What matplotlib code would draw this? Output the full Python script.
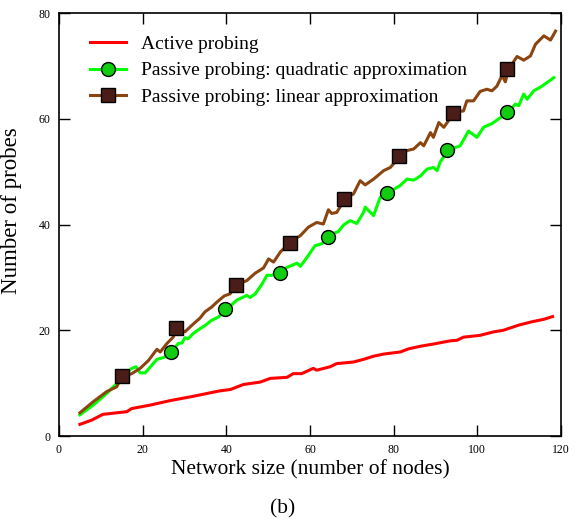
import matplotlib
matplotlib.use("Agg")
import matplotlib.pyplot as plt
from matplotlib.lines import Line2D

plt.rcParams['font.family'] = ['Liberation Serif', 'DejaVu Serif']

# Active probing (red) - read vertices
active_x = [5, 7.8, 10.5, 16.2, 17.4, 21.8, 26.6, 32, 38.5, 41, 44.1, 48.1, 50.5, 54.5, 56, 58,
            60.8, 61.6, 64.8, 66.4, 70.4, 72.8, 75.2, 77.6, 81.6, 83.6, 86.4, 89.5, 93.5, 95.1,
            96.7, 100.7, 103.9, 106.2, 110, 113, 116, 118]
active_y = [2.2, 3.0, 4.1, 4.6, 5.2, 5.85, 6.7, 7.5, 8.55, 8.8, 9.75, 10.2, 10.9, 11.1, 11.8, 11.8,
            12.8, 12.45, 13.1, 13.7, 14.0, 14.5, 15.1, 15.5, 15.9, 16.5, 16.98, 17.4, 18.0, 18.1,
            18.7, 19.05, 19.7, 20.0, 21.0, 21.6, 22.1, 22.6]

# Passive probing: quadratic approximation (green)
quad_x = [5, 8.2, 11.4, 14.2, 15.8, 17.4, 18.4, 19.4, 20.6, 22.2, 23.4, 25, 26.6, 28.5, 29.4,
          30.1, 30.9, 32.1, 33.7, 34.9, 36.5, 38.1, 39.3, 42.5, 44.9, 45.7, 46.9, 48.5, 49.7,
          50.9, 52.9, 54.5, 56.9, 57.7, 59.3, 61.2, 62.9, 64.4, 66.8, 68, 69.6, 71.2, 72.8,
          73.2, 75.2, 76.8, 78.8, 81.6, 83.2, 84.8, 86.4, 88, 89.5, 90.4, 91.1, 93.1, 95.9,
          97.9, 99.9, 101.5, 103.5, 105.1, 107.3, 109.1, 109.9, 111.1, 111.9, 113.5, 115.5, 118.3]
quad_y = [4.0, 5.85, 8.05, 10.25, 11.8, 12.8, 13.1, 11.95, 11.95, 13.4, 14.5, 14.85, 15.6, 17.5, 17.6,
          18.6, 18.4, 19.4, 20.3, 20.9, 21.9, 22.5, 23.4, 25.7, 26.6, 26.2, 26.9, 28.7, 30.4,
          30.4, 31.0, 31.9, 32.7, 32.1, 33.8, 36.0, 36.4, 37.9, 38.7, 39.9, 40.75, 40.2, 42.3,
          43.3, 41.7, 45.2, 46.1, 47.4, 48.6, 48.4, 49.2, 50.5, 50.8, 50.2, 51.8, 54.1, 54.9,
          57.7, 56.5, 58.4, 59.1, 60.0, 61.2, 62.8, 62.5, 64.7, 63.7, 65.3, 66.2, 67.8]

# Passive probing: linear approximation (brown)
lin_x = [5, 8.2, 11.4, 13.8, 15, 17.4, 19.4, 21.4, 23.4, 24.2, 25.8, 27.3, 28.3, 30.1, 31.7,
         33.7, 34.9, 36.5, 37.7, 39.5, 40.9, 42.5, 44.9, 46.9, 48.9, 50.1, 51.3, 52.9, 55.4,
         57.7, 59.6, 61.6, 63.2, 64.4, 65.2, 66.4, 68.4, 70.4, 72, 73.2, 75.2, 77.6, 79.2,
         81.6, 83.2, 84.8, 86.4, 87.2, 88.8, 89.5, 90.8, 92, 94.5, 96.7, 97.5, 99.1, 100.7,
         102.3, 103.5, 104.7, 105.9, 106.7, 107.5, 109.5, 111.1, 112.7, 113.9, 115.9, 117.5, 118.7]
lin_y = [4.4, 6.5, 8.4, 9.3, 11.2, 11.8, 12.8, 14.3, 16.4, 15.9, 17.5, 18.7, 20.5, 19.7, 20.9,
         22.3, 23.5, 24.4, 25.3, 26.5, 26.9, 28.6, 29.4, 30.8, 31.8, 33.5, 32.9, 34.8, 36.8,
         37.9, 39.5, 40.4, 40.1, 42.8, 42.1, 42.3, 44.9, 45.8, 48.3, 47.5, 48.6, 50.2, 50.8,
         53.0, 54.0, 54.3, 55.5, 54.9, 57.4, 56.5, 59.3, 58.4, 61.2, 61.5, 63.4, 63.4, 65.2,
         65.6, 65.3, 66.2, 68.2, 67.0, 69.4, 71.8, 71.1, 71.9, 74.1, 75.7, 74.9, 76.6]

# Marker positions
quad_mx = [26.8, 39.7, 52.9, 64.4, 78.5, 92.8, 107.2]
quad_my = [15.8, 24.0, 30.9, 37.7, 46.0, 54.2, 61.3]
lin_mx = [15.0, 28.0, 42.3, 55.3, 68.2, 81.3, 94.3, 107.2]
lin_my = [11.3, 20.4, 28.5, 36.6, 44.9, 53.0, 61.1, 69.4]

xticks = [0, 20, 40, 60, 80, 100, 120]
yticks = [0, 20, 40, 60, 80]

labels = ["Active probing",
          "Passive probing: quadratic approximation",
          "Passive probing: linear approximation"]

red = "#ff0000"
green = "#00ff00"
green_m = "#11cc11"
brown = "#8b4511"
brown_m = "#4a1d18"

fig = plt.figure(figsize=(5.75, 5.25), dpi=100)
ax = fig.add_axes([0.1026, 0.1695, 0.873, 0.8055])

ax.plot(active_x, active_y, color=red, lw=2.2)
ax.plot(quad_x, quad_y, color=green, lw=2.2)
ax.plot(lin_x, lin_y, color=brown, lw=2.2)
ax.plot(quad_mx, quad_my, ls='none', marker='o', ms=10, mfc=green_m, mec='black', mew=1.0)
ax.plot(lin_mx, lin_my, ls='none', marker='s', ms=10, mfc=brown_m, mec='black', mew=1.0)

ax.set_xlim(0, 120)
ax.set_ylim(0, 80)
ax.set_xticks(xticks)
ax.set_yticks(yticks)
ax.set_xticklabels([str(v) for v in xticks])
ax.set_yticklabels([str(v) for v in yticks])
ax.tick_params(direction='in', length=8, width=1, labelsize=8.5, top=True, right=True, pad=6)
for s in ax.spines.values():
    s.set_linewidth(1.2)

ax.set_xlabel("Network size (number of nodes)", fontsize=15.5, labelpad=3)
ax.set_ylabel("Number of probes", fontsize=16.5)
ax.yaxis.set_label_coords(-0.074, 0.534)

handles = [Line2D([], [], color=red, lw=2.2),
           Line2D([], [], color=green, lw=2.2, marker='o', ms=10, mfc=green_m, mec='black'),
           Line2D([], [], color=brown, lw=2.2, marker='s', ms=10, mfc=brown_m, mec='black')]
ax.legend(handles, labels, loc='upper left', bbox_to_anchor=(0.035, 0.98), frameon=False,
          fontsize=14, handlelength=1.85, handletextpad=0.75, labelspacing=0.46, borderaxespad=0.3)

fig.text(0.492, 0.03, "(b)", fontsize=15.5, ha='center', va='center')

fig.savefig("out.png", dpi=100)
